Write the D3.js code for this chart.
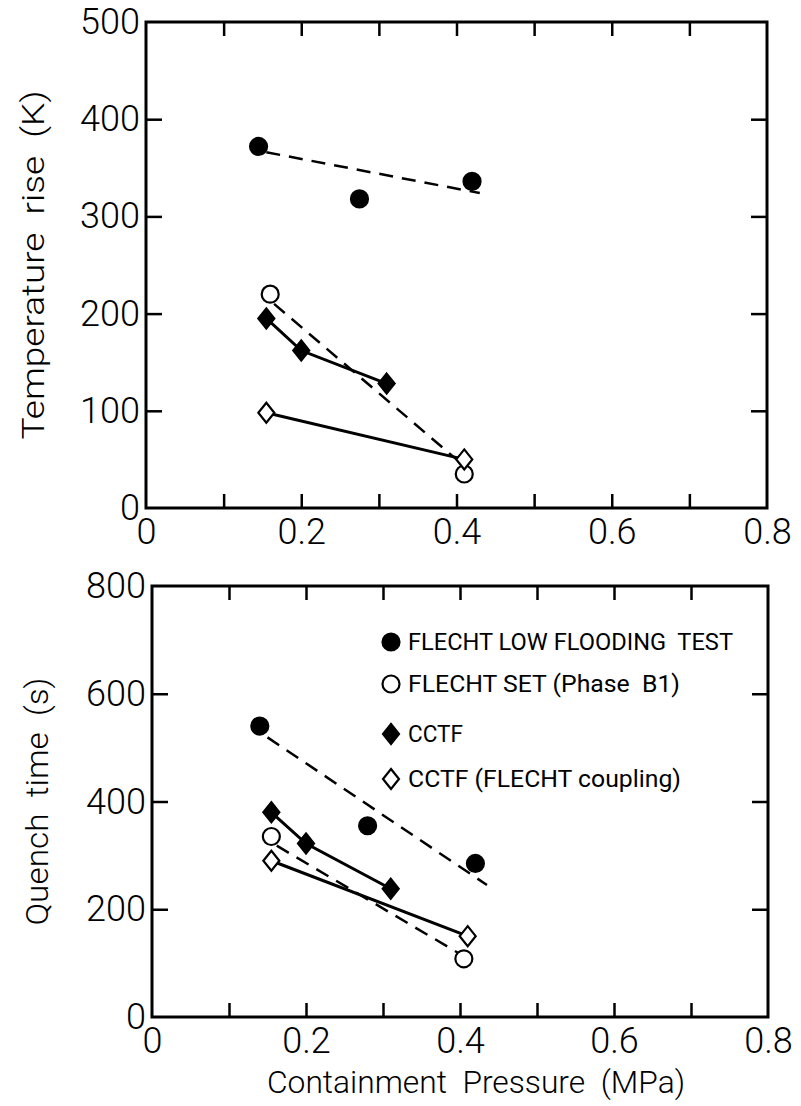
<!DOCTYPE html>
<html>
<head>
<meta charset="utf-8">
<script src="https://cdn.jsdelivr.net/npm/d3@7"></script>
<style>
  body { margin: 0; background: #fff; }
  text { font-family: Roboto, "Liberation Sans", sans-serif; fill: #000; }
</style>
</head>
<body>
<div id="chart"></div>
<script>
// tick labels
var pressureTicks = [0, 0.2, 0.4, 0.6, 0.8];
var pressureMinor = [0.1, 0.2, 0.3, 0.4, 0.5, 0.6, 0.7];
var tempTicks = [0, 100, 200, 300, 400, 500];
var quenchTicks = [0, 200, 400, 600, 800];

// FLECHT low flooding test (filled circles)
var lowFloodTempP = [0.145, 0.275, 0.42];
var lowFloodTemp = [372, 318, 336];
var lowFloodTempFitP = [0.155, 0.43];
var lowFloodTempFit = [366, 324];
var lowFloodQuenchP = [0.14, 0.28, 0.42];
var lowFloodQuench = [540, 355, 285];
var lowFloodQuenchFitP = [0.15, 0.435];
var lowFloodQuenchFit = [519, 245];

// FLECHT SET phase B1 (open circles)
var setP = [0.16, 0.41];
var setTemp = [220, 35];
var setTempFitP = [0.165, 0.40];
var setTempFit = [210, 50];
var setQuenchP = [0.155, 0.405];
var setQuench = [335, 108];
var setQuenchFitP = [0.162, 0.40];
var setQuenchFit = [318, 117];

// CCTF (filled diamonds)
var cctfP = [0.155, 0.2, 0.31];
var cctfTemp = [195, 162, 128];
var cctfQuench = [380, 322, 238];

// CCTF FLECHT coupling (open diamonds)
var couplingP = [0.155, 0.41];
var couplingTemp = [98, 50];
var couplingQuench = [290, 150];

var legendNames = ["FLECHT LOW FLOODING  TEST", "FLECHT SET (Phase  B1)", "CCTF", "CCTF (FLECHT coupling)"];
var legendTypes = ["dot", "ring", "diamond", "opendiamond"];
var legendWidths = [325, 272, 55, 273];

var width = 801, height = 1106;

var svg = d3.select("#chart").append("svg")
    .attr("width", width).attr("height", height)
    .style("background", "#fff");

var panels = [
  {
    top: 22, bottom: 508, left: 146, right: 767,
    yMax: 500, yTicks: tempTicks, yInner: [100, 200, 300, 400],
    label: "Temperature  rise  (K)", labelX: 44, labelLen: 349,
    series: [
      { type: "dot", p: lowFloodTempP, v: lowFloodTemp, fitP: lowFloodTempFitP, fit: lowFloodTempFit },
      { type: "ring", p: setP, v: setTemp, fitP: setTempFitP, fit: setTempFit },
      { type: "diamond", p: cctfP, v: cctfTemp, join: true },
      { type: "opendiamond", p: couplingP, v: couplingTemp, join: true }
    ]
  },
  {
    top: 586, bottom: 1017, left: 152, right: 768,
    yMax: 800, yTicks: quenchTicks, yInner: [200, 400, 600],
    label: "Quench  time  (s)", labelX: 48, labelLen: 248,
    series: [
      { type: "dot", p: lowFloodQuenchP, v: lowFloodQuench, fitP: lowFloodQuenchFitP, fit: lowFloodQuenchFit },
      { type: "ring", p: setQuenchP, v: setQuench, fitP: setQuenchFitP, fit: setQuenchFit },
      { type: "diamond", p: cctfP, v: cctfQuench, join: true },
      { type: "opendiamond", p: couplingP, v: couplingQuench, join: true }
    ]
  }
];

// draws one marker symbol
function marker(g, type, x, y) {
  if (type == "dot" || type == "ring") {
    g.append("circle")
      .attr("cx", x).attr("cy", y).attr("r", 8.5)
      .attr("fill", type == "dot" ? "#000" : "#fff")
      .attr("stroke", "#000").attr("stroke-width", 2.2);
  } else {
    g.append("path")
      .attr("d", "M" + x + "," + (y - 10) + "L" + (x + 8) + "," + y + "L" + x + "," + (y + 10) + "L" + (x - 8) + "," + y + "Z")
      .attr("fill", type == "diamond" ? "#000" : "#fff")
      .attr("stroke", "#000").attr("stroke-width", 2.2);
  }
}

panels.forEach(function(pn) {
  var x = d3.scaleLinear().domain([0, 0.8]).range([pn.left, pn.right]);
  var y = d3.scaleLinear().domain([0, pn.yMax]).range([pn.bottom, pn.top]);
  var g = svg.append("g");

  // frame
  g.append("rect")
    .attr("x", pn.left).attr("y", pn.top)
    .attr("width", pn.right - pn.left).attr("height", pn.bottom - pn.top)
    .attr("fill", "none").attr("stroke", "#000").attr("stroke-width", 3);

  // inward ticks on all four sides
  var tickStyle = function(sel) {
    sel.select(".domain").remove();
    sel.selectAll("line").attr("stroke", "#000").attr("stroke-width", 2.5);
  };
  g.append("g").attr("transform", "translate(0," + pn.bottom + ")")
    .call(d3.axisBottom(x).tickValues(pressureMinor).tickSize(-14).tickFormat(""))
    .call(tickStyle);
  g.append("g").attr("transform", "translate(0," + pn.top + ")")
    .call(d3.axisTop(x).tickValues(pressureMinor).tickSize(-14).tickFormat(""))
    .call(tickStyle);
  g.append("g").attr("transform", "translate(" + pn.left + ",0)")
    .call(d3.axisLeft(y).tickValues(pn.yInner).tickSize(-16).tickFormat(""))
    .call(tickStyle);
  g.append("g").attr("transform", "translate(" + pn.right + ",0)")
    .call(d3.axisRight(y).tickValues(pn.yInner).tickSize(-16).tickFormat(""))
    .call(tickStyle);

  // tick labels
  var labStyle = function(sel) {
    sel.select(".domain").remove();
    sel.selectAll("text").attr("font-size", 36).attr("font-weight", 300)
      .style("font-family", "Roboto, 'Liberation Sans', sans-serif").attr("fill", "#000");
  };
  g.append("g").attr("transform", "translate(0," + pn.bottom + ")")
    .call(d3.axisBottom(x).tickValues(pressureTicks).tickSize(0).tickPadding(10)
      .tickFormat(function(d) { return d == 0 ? "0" : d3.format(".1f")(d); }))
    .call(labStyle);
  g.append("g").attr("transform", "translate(" + pn.left + ",0)")
    .call(d3.axisLeft(y).tickValues(pn.yTicks).tickSize(0).tickPadding(6).tickFormat(d3.format("d")))
    .call(labStyle);

  // y axis title
  g.append("text")
    .attr("transform", "translate(" + pn.labelX + "," + (pn.top + pn.bottom) / 2 + ") rotate(-90)")
    .attr("text-anchor", "middle")
    .attr("font-size", 31).attr("font-weight", 300)
    .attr("textLength", pn.labelLen).attr("lengthAdjust", "spacingAndGlyphs")
    .style("white-space", "pre")
    .text(pn.label);

  // fit lines and joined series
  var line = d3.line().x(function(d) { return x(d[0]); }).y(function(d) { return y(d[1]); });
  pn.series.forEach(function(s) {
    if (s.fit) {
      g.append("path")
        .datum(d3.zip(s.fitP, s.fit))
        .attr("d", line)
        .attr("fill", "none").attr("stroke", "#000")
        .attr("stroke-width", 2.5).attr("stroke-dasharray", "14,9");
    }
    if (s.join) {
      g.append("path")
        .datum(d3.zip(s.p, s.v))
        .attr("d", line)
        .attr("fill", "none").attr("stroke", "#000").attr("stroke-width", 3);
    }
  });
  pn.series.forEach(function(s) {
    s.p.forEach(function(p, i) { marker(g, s.type, x(p), y(s.v[i])); });
  });
});

// legend in lower panel
var legend = svg.append("g");
var legendRows = [642, 684, 734, 779];
legendNames.forEach(function(name, i) {
  marker(legend, legendTypes[i], 391, legendRows[i]);
  legend.append("text")
    .attr("x", 408).attr("y", legendRows[i] + 8)
    .attr("font-size", 23)
    .attr("textLength", legendWidths[i]).attr("lengthAdjust", "spacingAndGlyphs")
    .style("white-space", "pre")
    .text(name);
});

// x axis title
svg.append("text")
  .attr("x", 476).attr("y", 1093)
  .attr("text-anchor", "middle")
  .attr("font-size", 32).attr("font-weight", 300)
  .attr("textLength", 418).attr("lengthAdjust", "spacingAndGlyphs")
  .style("white-space", "pre")
  .text("Containment  Pressure  (MPa)");
</script>
</body>
</html>
